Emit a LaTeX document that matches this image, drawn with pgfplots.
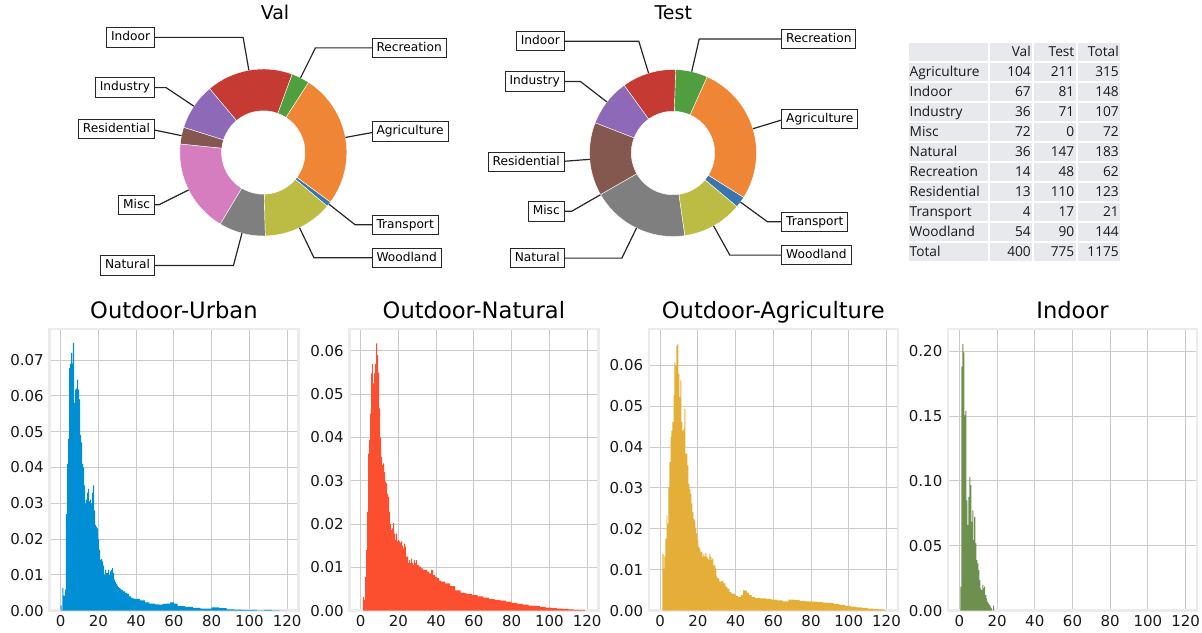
\documentclass[border=0pt]{standalone}
\usepackage{fontspec}
\setmainfont{DejaVu Sans}
\newfontfamily\tablefont{Open Sans}
\usepackage{pgfplots}
\pgfplotsset{compat=1.18}
\definecolor{cA}{HTML}{3B75AF}
\definecolor{cB}{HTML}{EF8636}
\definecolor{cC}{HTML}{519E3E}
\definecolor{cD}{HTML}{C53A32}
\definecolor{cE}{HTML}{8D69B8}
\definecolor{cF}{HTML}{84584E}
\definecolor{cG}{HTML}{D57DBF}
\definecolor{cH}{HTML}{7F7F7F}
\definecolor{cI}{HTML}{BCBC45}
\definecolor{urban}{HTML}{008FD5}
\definecolor{natural}{HTML}{FC4F30}
\definecolor{agri}{HTML}{E5AE38}
\definecolor{indoor}{HTML}{6D904F}
\definecolor{gridc}{HTML}{CBCBCB}
\definecolor{spinec}{HTML}{EBEBEB}
\definecolor{cellc}{HTML}{E7E9EC}

\pgfplotsset{
  histo/.style={
    scale only axis, width=249pt, height=281.5pt, anchor=south west,
    xmin=-6, xmax=126, ymin=0,
    xtick={0,20,40,60,80,100,120},
    grid=major, major grid style={gridc, line width=1pt},
    axis line style={spinec, line width=2.5pt},
    major tick length=0pt,
    /pgf/number format/assume math mode=true,
    tick label style={font=\fontsize{15}{18}\selectfont, inner sep=0pt, text=black!90},
    xticklabel style={anchor=north, yshift=-4pt},
    yticklabel style={anchor=east, xshift=-5.5pt, /pgf/number format/fixed, /pgf/number format/fixed zerofill, /pgf/number format/precision=2},
    scaled y ticks=false,
    title style={anchor=base, yshift=5pt, font=\fontsize{22.6}{26}\selectfont},
  },
  donutax/.style={anchor=center, x=1pt, y=1pt, xmin=-180, xmax=180, ymin=-140, ymax=140, hide axis, clip=false},
}

\newcommand\donut[4]{%
 \begin{scope}[shift={(axis cs:0,0)}]
  \node[anchor=base, font=\fontsize{19}{22}\selectfont] at (#4pt,133.5pt) {#3};
  \xdef\cum{0}
  \foreach \v/\c/\lab in {#2} {
    \pgfmathsetmacro{\angA}{-40+\cum/#1*360}
    \pgfmathsetmacro{\angB}{-40+(\cum+\v)/#1*360}
    \ifdim\v pt>0pt
      \fill[\c, draw=white, line width=0.4pt] (\angA:83.5pt) arc[start angle=\angA, end angle=\angB, radius=83.5pt] -- (\angB:41.75pt) arc[start angle=\angB, end angle=\angA, radius=41.75pt] -- cycle;
    \fi
    \pgfmathsetmacro{\angM}{(\angA+\angB)/2}
    \pgfmathsetmacro{\cosM}{cos(\angM)}
    \pgfmathsetmacro{\sinM}{sin(\angM)}
    \ifdim\cosM pt>0pt \def\an{west}\def\sg{1}\def\xs{-4.5pt}\else\def\an{east}\def\sg{-1}\def\xs{4.5pt}\fi
    \pgfmathsetmacro{\tx}{\sg*1.35*83.5}
    \pgfmathsetmacro{\ty}{1.4*83.5*\sinM}
    \draw[line width=1.2pt, black!85] (\angM:83.5pt) -- (\angM:116.9pt) -- (\tx pt,\ty pt);
    \node[draw=black!85, line width=1pt, fill=white, anchor=\an, xshift=\xs, inner xsep=4.5pt, inner ysep=4pt, text height=9pt, text depth=2.5pt, font=\fontsize{12.2}{14}\selectfont] at (\tx pt,\ty pt) {\lab};
    \pgfmathsetmacro{\nc}{\cum+\v}\xdef\cum{\nc}
  }
 \end{scope}}

\begin{document}
\begin{tikzpicture}
\path[use as bounding box] (0,0) rectangle (1202pt,-632pt);

% ---------- Donuts ----------
\begin{axis}[donutax, at={(263.3pt,-152.5pt)}]
\pgfplotsextra{\donut{400}{4/cA/Transport, 104/cB/Agriculture, 14/cC/Recreation, 67/cD/Indoor, 36/cE/Industry, 13/cF/Residential, 72/cG/Misc, 36/cH/Natural, 54/cI/Woodland}{Val}{11.7}}
\end{axis}
\begin{axis}[donutax, at={(673pt,-153pt)}]
\pgfplotsextra{\donut{775}{17/cA/Transport, 211/cB/Agriculture, 48/cC/Recreation, 81/cD/Indoor, 71/cE/Industry, 110/cF/Residential, 0/cG/Misc, 147/cH/Natural, 90/cI/Woodland}{Test}{0.3}}
\end{axis}

% ---------- Table ----------
\foreach \a/\b/\c/\d [count=\i from 0] in {{}/Val/Test/Total, Agriculture/104/211/315, Indoor/67/81/148, Industry/36/71/107, Misc/72/0/72, Natural/36/147/183, Recreation/14/48/62, Residential/13/110/123, Transport/4/17/21, Woodland/54/90/144, Total/400/775/1175} {
  \pgfmathsetmacro{\rt}{41.7+20*\i}
  \pgfmathsetmacro{\rb}{61.7+20*\i}
  \pgfmathsetmacro{\bl}{\rb-4.8}
  \fill[cellc] (909.3pt,-\rt pt-1pt) rectangle (988pt,-\rb pt+1pt);
  \fill[cellc] (990pt,-\rt pt-1pt) rectangle (1032.3pt,-\rb pt+1pt);
  \fill[cellc] (1034.3pt,-\rt pt-1pt) rectangle (1075.7pt,-\rb pt+1pt);
  \fill[cellc] (1077.7pt,-\rt pt-1pt) rectangle (1120pt,-\rb pt+1pt);
  \begin{scope}[every node/.style={inner sep=0pt, font=\tablefont\fontsize{13.7}{16}\selectfont, text=black!90}]
  \node[anchor=base west] at (909.5pt,-\bl pt) {\a};
  \node[anchor=base east] at (1031pt,-\bl pt) {\b};
  \node[anchor=base east] at (1074.5pt,-\bl pt) {\c};
  \node[anchor=base east] at (1119pt,-\bl pt) {\d};
  \end{scope}
}

% ---------- Histograms ----------
\begin{axis}[histo, at={(49.4pt,-610.7pt)}, ymax=0.0786, ytick={0,0.01,0.02,0.03,0.04,0.05,0.06,0.07}, title={Outdoor-Urban}]
\addplot[const plot mark left, fill=urban, draw=none] coordinates {
(0.0,0.0015)(0.5,0)(0.9,0.0063)(1.4,0.0042)(2.3,0.0059)(2.8,0.027)(3.4,0.041)(3.9,0.048)(4.4,0.0678)(5.0,0.069)(5.5,0.072)(6.0,0.069)(6.5,0.0747)(7.1,0.058)(7.6,0.0617)(8.1,0.062)(8.7,0.0645)(9.2,0.0617)(9.7,0.059)(10.3,0.049)(10.8,0.047)(11.3,0.041)(11.9,0.040)(12.4,0.035)(12.9,0.030)(13.4,0.031)(14.0,0.033)(14.5,0.034)(15.0,0.0305)(15.6,0.031)(16.1,0.030)(16.6,0.033)(17.2,0.035)(17.7,0.028)(18.2,0.024)(18.7,0.0235)(19.3,0.023)(19.8,0.020)(20.3,0.017)(20.9,0.0142)(21.4,0.0144)(21.9,0.0138)(22.5,0.0126)(23.0,0.010)(23.5,0.0114)(24.1,0.0105)(24.6,0.0105)(25.1,0.0114)(25.6,0.010)(26.2,0.011)(26.7,0.0114)(27.2,0.0119)(27.8,0.0105)(28.3,0.0087)(28.8,0.0080)(29.4,0.0075)(29.9,0.0070)(30.4,0.0066)(31.0,0.0063)(31.5,0.0061)(32.0,0.0058)(33.1,0.0054)(34.1,0.0050)(35.2,0.0047)(36.3,0.0040)(37.3,0.0036)(38.4,0.0034)(39.4,0.0033)(42.1,0.0029)(44.7,0.0023)(47,0.0020)(50,0.0018)(52,0.0017)(54,0.0019)(56,0.0020)(58,0.0023)(60,0.0020)(62,0.0013)(66,0.0011)(70,0.0008)(74,0.0006)(78,0.0006)(80,0.0009)(84,0.0007)(88,0.0004)(92,0.0003)(96,0.0002)(100,0.0002)(104,0.0001)(108,0.0002)(112,0.0001)(116,0)(120,0)
} \closedcycle;
\end{axis}

\begin{axis}[histo, at={(349.4pt,-610.7pt)}, ymax=0.065, ytick={0,0.01,0.02,0.03,0.04,0.05,0.06}, title={Outdoor-Natural}]
\addplot[const plot mark left, fill=natural, draw=none] coordinates {
(1.2,0.0032)(1.8,0.0025)(2.3,0.0078)(2.8,0.014)(3.4,0.0228)(3.9,0.0363)(4.4,0.0394)(5.0,0.0455)(5.5,0.0548)(6.0,0.057)(6.5,0.0525)(7.1,0.0548)(7.6,0.057)(8.1,0.0617)(8.7,0.059)(9.2,0.055)(9.7,0.0467)(10.3,0.040)(10.8,0.0355)(11.3,0.0336)(11.9,0.034)(12.4,0.032)(12.9,0.0298)(13.4,0.0294)(14.0,0.027)(14.5,0.0263)(15.0,0.0228)(15.6,0.020)(16.1,0.0186)(16.6,0.019)(17.2,0.0203)(17.7,0.0178)(18.2,0.0163)(18.7,0.0178)(19.3,0.016)(19.8,0.0163)(20.3,0.016)(20.9,0.0157)(21.4,0.016)(21.9,0.015)(22.5,0.0144)(23.0,0.0155)(23.5,0.0148)(24.1,0.0125)(24.6,0.0125)(25.1,0.011)(25.6,0.0117)(26.2,0.011)(26.7,0.012)(27.2,0.011)(27.8,0.0105)(28.3,0.0117)(28.8,0.011)(29.4,0.0117)(29.9,0.0105)(31.0,0.0102)(32.0,0.0098)(33.1,0.0094)(34.1,0.0094)(35.2,0.009)(36.3,0.0086)(37.3,0.0094)(38.4,0.0082)(39.4,0.0078)(40.5,0.0075)(41.6,0.0069)(42.6,0.0067)(44.7,0.0063)(47.4,0.0057)(50,0.0047)(53,0.0041)(56,0.0039)(59,0.0036)(62,0.0033)(65,0.0030)(68,0.0027)(71,0.0025)(74,0.0023)(77,0.0021)(80,0.0018)(83,0.0016)(86,0.0014)(89,0.0012)(92,0.0011)(95,0.0009)(98,0.0007)(101,0.0006)(104,0.0005)(107,0.0004)(110,0.0003)(113,0.0002)(116,0.0002)(119,0)
} \closedcycle;
\end{axis}

\begin{axis}[histo, at={(648.8pt,-610.7pt)}, ymax=0.0688, ytick={0,0.01,0.02,0.03,0.04,0.05,0.06}, title={Outdoor-Agriculture}]
\addplot[const plot mark left, fill=agri, draw=none] coordinates {
(1.2,0.0138)(1.8,0.0103)(2.3,0.0133)(2.8,0.0176)(3.4,0.0233)(3.9,0.0213)(4.4,0.0302)(4.9,0.0363)(5.5,0.0424)(6.0,0.044)(6.5,0.0461)(7.1,0.0526)(7.6,0.0607)(8.1,0.0599)(8.6,0.0648)(9.2,0.0652)(9.7,0.0579)(10.2,0.0522)(10.8,0.0563)(11.3,0.0461)(11.8,0.044)(12.4,0.0445)(12.9,0.0493)(13.4,0.0384)(13.9,0.0384)(14.5,0.0355)(15.0,0.031)(15.5,0.0298)(16.1,0.0286)(16.6,0.0262)(17.1,0.0241)(17.6,0.0225)(18.2,0.0221)(18.7,0.0201)(19.2,0.0189)(19.8,0.0172)(20.3,0.0156)(20.8,0.0152)(21.4,0.0144)(21.9,0.0144)(22.4,0.0132)(22.9,0.0138)(23.5,0.0132)(24.0,0.0141)(24.5,0.0132)(25.1,0.0128)(25.6,0.0124)(26.1,0.0138)(26.6,0.0132)(27.2,0.0124)(27.7,0.0128)(28.2,0.0111)(28.8,0.0111)(29.3,0.0103)(29.8,0.0083)(30.4,0.0079)(31.4,0.0071)(32.5,0.0073)(33.5,0.0067)(34.6,0.0059)(35.6,0.0054)(36.7,0.0046)(37.8,0.0042)(38.8,0.0041)(39.9,0.0036)(41.5,0.0034)(42.9,0.0038)(44.0,0.005)(45.0,0.0049)(46.0,0.0044)(47.1,0.0038)(48.5,0.0034)(50.3,0.0031)(53,0.0030)(56,0.0029)(59,0.0027)(62,0.0025)(65,0.0023)(68,0.0027)(71,0.0026)(74,0.0024)(77,0.0023)(80,0.0022)(83,0.0021)(86,0.0020)(89,0.0019)(92,0.0016)(95,0.0014)(98,0.0012)(101,0.0010)(104,0.0008)(107,0.0007)(110,0.0005)(113,0.0004)(116,0.0003)(119,0.0001)(120,0)
} \closedcycle;
\end{axis}

\begin{axis}[histo, at={(948pt,-610.7pt)}, ymax=0.2169, ytick={0,0.05,0.10,0.15,0.20}, title={Indoor}]
\addplot[const plot mark left, fill=indoor, draw=none] coordinates {
(0.5,0.0185)(1.1,0.188)(1.6,0.2056)(2.1,0.199)(2.7,0.1505)(3.2,0.154)(3.7,0.085)(4.2,0.066)(4.8,0.0877)(5.3,0.103)(5.8,0.0967)(6.4,0.0685)(6.9,0.0774)(7.4,0.0544)(7.9,0.0723)(8.5,0.0518)(9.0,0.039)(9.5,0.0364)(10.1,0.0313)(10.6,0.0236)(11.1,0.0172)(11.6,0.0159)(12.2,0.0197)(12.7,0.0172)(13.2,0.0185)(13.7,0.012)(14.3,0.0095)(14.8,0.0069)(15.3,0.0056)(15.8,0.0044)(16.4,0.003)(16.9,0.0018)(17.4,0)(17.9,0.004)(18.5,0)
} \closedcycle;
\end{axis}
\end{tikzpicture}
\end{document}
